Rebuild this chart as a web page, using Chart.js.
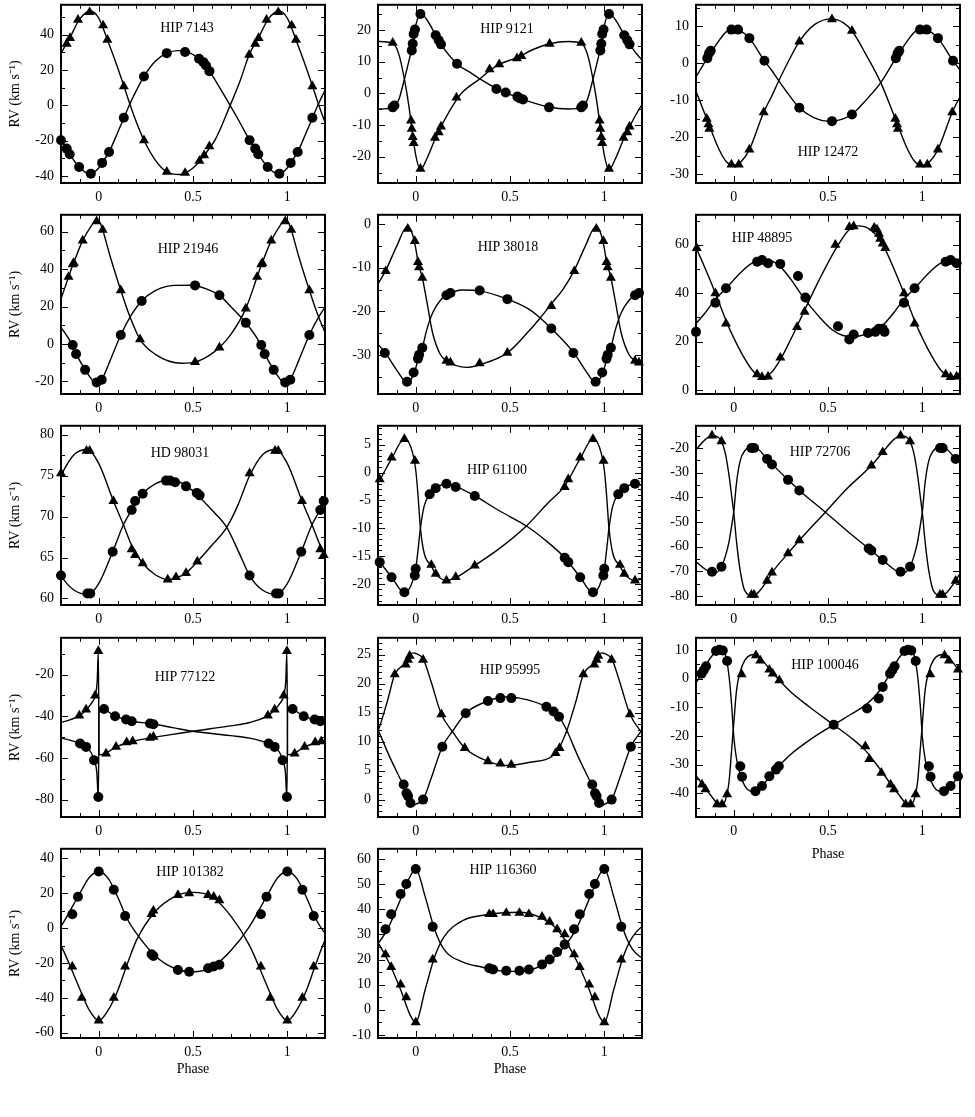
<!DOCTYPE html>
<html><head><meta charset="utf-8">
<script src="https://cdn.jsdelivr.net/npm/chart.js@4/dist/chart.umd.min.js"></script>
<style>
html,body{margin:0;padding:0;background:#fff;}
body{position:relative;width:975px;height:1117px;overflow:hidden;font-family:"Liberation Serif","Times New Roman",serif;}
canvas{position:absolute;}
.name{position:absolute;font:14px "Liberation Serif",serif;color:#000;white-space:nowrap;transform:translate(-50%,-50%);}
</style></head><body>
<script>
// ===== DATA: [phase, RV km/s]; phases in [0,1), repeated over the plotted range -0.2..1.2 =====
const panelNames = ['HIP 7143','HIP 9121','HIP 12472','HIP 21946','HIP 38018','HIP 48895','HD 98031','HIP 61100','HIP 72706','HIP 77122','HIP 95995','HIP 100046','HIP 101382','HIP 116360'];
const phaseTicks = [0, 0.5, 1];
const phaseTickLabels = ['0', '0.5', '1'];
const phaseMinorTicks = [-0.2,-0.1,0.1,0.2,0.3,0.4,0.6,0.7,0.8,0.9,1.1,1.2];

// HIP 7143
const hip7143_circles = [[0.240,16.4],[0.361,29.6],[0.458,30.2],[0.532,26.4],[0.555,24.5],[0.569,22.6],[0.587,19.4],[0.800,-19.8],[0.830,-24.5],[0.846,-27.7],[0.896,-34.9],[0.958,-38.7],[0.018,-32.6],[0.055,-26.4],[0.133,-7.0]];
const hip7143_triangles = [[0.798,28.7],[0.830,34.9],[0.848,38.1],[0.890,48.5],[0.952,52.8],[0.023,45.3],[0.046,37.2],[0.133,10.8],[0.240,-19.8],[0.361,-37.7],[0.458,-38.3],[0.534,-31.5],[0.559,-28.3],[0.587,-23.2]];
const hip7143_fitC = [[0.00,-35.5],[0.018,-32.6],[0.055,-26.4],[0.10,-15.5],[0.134,-7.0],[0.165,0.8],[0.20,8.5],[0.24,16.4],[0.30,25],[0.361,29.6],[0.42,31],[0.47,30.3],[0.532,26.4],[0.587,19.4],[0.65,8.5],[0.697,0],[0.75,-10],[0.80,-19.8],[0.846,-27.7],[0.896,-34.9],[0.955,-39]];
const hip7143_fitT = [[0.00,49.5],[0.046,37.2],[0.10,21.5],[0.134,10.8],[0.165,0.8],[0.20,-9.5],[0.24,-19.8],[0.30,-31],[0.361,-37.7],[0.43,-39.2],[0.50,-35.5],[0.559,-28.3],[0.62,-19],[0.697,0],[0.75,14],[0.798,28.7],[0.848,38.5],[0.90,49],[0.955,53.5]];
const hip7143_yTicks = [-40,-20,0,20,40];

// HIP 9121
const hip9121_circles = [[0.878,-4.4],[0.887,-3.8],[0.979,13.6],[0.984,15.7],[0.989,18.8],[0.996,20.2],[0.025,25.1],[0.106,18.4],[0.122,16.8],[0.134,15.5],[0.219,9.4],[0.428,1.4],[0.477,0.3],[0.539,-1.0],[0.551,-1.5],[0.569,-1.9],[0.707,-4.4]];
const hip9121_triangles = [[0.878,16.0],[0.975,-8.6],[0.979,-11.2],[0.984,-13.8],[0.989,-15.7],[0.025,-23.8],[0.102,-14.0],[0.122,-12.3],[0.134,-10.5],[0.216,-1.3],[0.392,7.6],[0.443,9.2],[0.537,11.1],[0.560,11.8],[0.710,15.7]];
const hip9121_fitC = [[0.0,21.5],[0.028,25.2],[0.06,23.2],[0.106,18.4],[0.134,15.5],[0.219,9.4],[0.30,6.2],[0.34,4.6],[0.428,1.6],[0.55,-1.5],[0.707,-4.3],[0.81,-4.9],[0.878,-4.3],[0.91,-2],[0.94,4.5],[0.965,10.5],[0.98,14.5]];
const hip9121_fitT = [[0.0,-19.5],[0.025,-24.1],[0.06,-20.5],[0.102,-14.5],[0.134,-10.5],[0.20,-3.5],[0.25,0.5],[0.34,4.6],[0.392,7.2],[0.443,9.2],[0.537,11.3],[0.62,13.8],[0.71,15.7],[0.81,16.4],[0.878,15.8],[0.91,12.5],[0.94,4.5],[0.965,-4.5],[0.98,-11.5]];
const hip9121_yTicks = [-20,-10,0,10,20];

// HIP 12472
const hip12472_circles = [[0.988,9.1],[0.023,9.1],[0.083,6.8],[0.163,0.7],[0.348,-12.0],[0.521,-15.6],[0.627,-13.8],[0.860,1.4],[0.869,2.7],[0.878,3.4]];
const hip12472_triangles = [[0.988,-27.3],[0.027,-27.3],[0.083,-23.3],[0.159,-13.2],[0.348,5.9],[0.521,11.9],[0.627,8.8],[0.857,-15.0],[0.866,-16.5],[0.871,-17.7]];
const hip12472_fitC = [[0.0,9.3],[0.05,8.3],[0.083,6.8],[0.163,0.7],[0.20,-1.8],[0.239,-4.7],[0.30,-9],[0.348,-12.0],[0.43,-14.8],[0.51,-15.7],[0.58,-15],[0.627,-13.8],[0.70,-10],[0.78,-5.2],[0.86,1.4],[0.92,6],[0.96,8.5]];
const hip12472_fitT = [[0.0,-27.5],[0.04,-26.5],[0.083,-23.3],[0.159,-13.2],[0.20,-9],[0.239,-4.7],[0.30,1.5],[0.348,5.9],[0.43,10.5],[0.52,12.0],[0.58,11],[0.627,8.8],[0.70,2.5],[0.78,-5.2],[0.857,-15.0],[0.92,-23],[0.96,-26.5]];
const hip12472_yTicks = [-30,-20,-10,0,10];

// HIP 21946
const hip21946_circles = [[0.78,11.3],[0.862,-0.5],[0.880,-5.3],[0.928,-13.8],[0.989,-20.5],[0.016,-19.1],[0.117,4.8],[0.228,23.0],[0.511,31.3],[0.640,26.0]];
const hip21946_triangles = [[0.78,18.9],[0.84,35.8],[0.862,42.5],[0.868,43.2],[0.915,55.2],[0.989,65.5],[0.021,60.9],[0.117,28.7],[0.219,2.5],[0.511,-9.7],[0.640,-1.9]];
const hip21946_fitC = [[0.0,-21],[0.016,-19.1],[0.06,-9],[0.117,4.8],[0.17,15],[0.228,23.0],[0.30,28.5],[0.40,31.3],[0.50,31.4],[0.58,29],[0.640,26.0],[0.71,19],[0.78,11.3],[0.84,3],[0.88,-5.3],[0.928,-13.8],[0.96,-18.5],[0.985,-21.2]];
const hip21946_fitT = [[0.0,65.8],[0.021,60.9],[0.06,47],[0.117,28.7],[0.16,16],[0.219,2.5],[0.30,-5.5],[0.44,-10.3],[0.511,-9.7],[0.58,-6.5],[0.64,-1.9],[0.70,5],[0.78,18.9],[0.84,35.8],[0.865,42.8],[0.915,55.2],[0.96,63],[0.985,66]];
const hip21946_yTicks = [-20,0,20,40,60];

// HIP 38018
const hip38018_circles = [[0.836,-29.5],[0.954,-36.1],[0.989,-34.0],[0.012,-30.8],[0.018,-29.9],[0.035,-28.3],[0.163,-16.3],[0.184,-15.8],[0.339,-15.2],[0.486,-17.2],[0.719,-23.9]];
const hip38018_triangles = [[0.841,-10.8],[0.958,-1.1],[0.995,-3.9],[0.012,-8.7],[0.018,-9.9],[0.035,-12.3],[0.163,-31.3],[0.184,-31.7],[0.339,-31.9],[0.486,-29.5],[0.719,-18.8]];
const hip38018_fitC = [[0.0,-33],[0.012,-31],[0.035,-28.3],[0.06,-24],[0.09,-20.3],[0.13,-17.5],[0.163,-16.3],[0.25,-15.1],[0.339,-15.3],[0.486,-17.2],[0.6,-19.5],[0.66,-21.5],[0.719,-23.9],[0.839,-29.5],[0.90,-33.5],[0.955,-36.3],[0.98,-35.2]];
const hip38018_fitT = [[0.0,-5.5],[0.012,-8.7],[0.035,-12.3],[0.06,-18],[0.09,-25],[0.13,-29.8],[0.163,-31.3],[0.27,-32.8],[0.339,-32.2],[0.486,-29.5],[0.6,-24.5],[0.66,-21.5],[0.719,-18.3],[0.78,-15],[0.839,-10.8],[0.90,-5],[0.955,-0.6],[0.98,-2]];
const hip38018_yTicks = [-30,-20,-10,0];

// HIP 48895
const hip48895_circles = [[0.800,24.0],[0.903,36.0],[0.959,42.0],[0.124,53.0],[0.150,53.7],[0.182,52.4],[0.247,52.1],[0.341,47.1],[0.380,38.2],[0.553,26.3],[0.613,20.8],[0.636,22.9],[0.712,23.5],[0.751,24.0],[0.769,25.3],[0.790,25.3]];
const hip48895_triangles = [[0.903,39.9],[0.959,27.4],[0.124,6.4],[0.150,5.3],[0.182,5.5],[0.247,13.3],[0.336,26.0],[0.376,32.3],[0.539,60.0],[0.613,67.3],[0.636,67.6],[0.745,67.0],[0.760,66.3],[0.770,64.5],[0.777,62.5],[0.790,60.5],[0.804,58.6]];
const hip48895_fitC = [[0.0,45.5],[0.05,49.5],[0.10,52.5],[0.17,53.8],[0.24,51.5],[0.30,46],[0.376,37.5],[0.45,30.5],[0.52,25],[0.58,22.5],[0.64,22],[0.70,23],[0.76,25],[0.80,27.5],[0.85,32],[0.903,37.5],[0.96,42]];
const hip48895_fitT = [[0.0,21.5],[0.05,14],[0.10,8],[0.15,5.2],[0.20,7.2],[0.247,12.5],[0.30,20.5],[0.376,33],[0.45,45],[0.539,58],[0.613,66.3],[0.66,67.8],[0.72,66.5],[0.77,62.5],[0.804,58],[0.85,50],[0.903,40],[0.96,28.5]];
const hip48895_yTicks = [0,20,40,60];

// HD 98031
const hd98031_circles = [[0.80,62.8],[0.94,60.6],[0.955,60.6],[0.074,65.7],[0.175,70.8],[0.193,71.9],[0.233,72.8],[0.357,74.4],[0.378,74.4],[0.405,74.2],[0.463,73.7],[0.52,72.9],[0.535,72.6]];
const hd98031_triangles = [[0.80,75.3],[0.935,78.05],[0.952,78.05],[0.078,71.9],[0.175,66.0],[0.193,65.3],[0.233,64.3],[0.366,62.3],[0.41,62.6],[0.463,63.1],[0.523,64.5]];
const hd98031_fitC = [[0.0,61.8],[0.074,65.7],[0.131,69.0],[0.175,70.8],[0.233,72.8],[0.30,74],[0.38,74.5],[0.463,73.8],[0.52,72.7],[0.60,70.8],[0.679,68.7],[0.75,65.3],[0.80,62.8],[0.87,61],[0.945,60.5]];
const hd98031_fitT = [[0.0,76.5],[0.078,71.9],[0.131,69.0],[0.18,66.2],[0.233,64.3],[0.30,62.9],[0.37,62.3],[0.41,62.5],[0.463,63.1],[0.523,64.5],[0.60,66.5],[0.679,68.7],[0.74,71.5],[0.80,75.0],[0.87,77.6],[0.94,78.2]];
const hd98031_yTicks = [60,65,70,75,80];

// HIP 61100
const hip61100_circles = [[0.790,-15.3],[0.809,-16.1],[0.872,-18.8],[0.940,-21.5],[0.995,-18.5],[0.0,-17.3],[0.074,-3.9],[0.106,-2.8],[0.163,-2.0],[0.212,-2.6],[0.313,-4.2]];
const hip61100_triangles = [[0.790,-2.6],[0.809,-1.2],[0.872,2.7],[0.940,6.0],[0.996,2.1],[0.083,-16.6],[0.106,-18.2],[0.163,-19.4],[0.212,-18.8],[0.313,-16.7]];
const hip61100_fitC = [[0.0,-17.3],[0.012,-14],[0.025,-10],[0.045,-6],[0.074,-3.9],[0.106,-2.8],[0.163,-2.0],[0.212,-2.5],[0.313,-4.2],[0.45,-7],[0.587,-9.6],[0.70,-12.5],[0.79,-15.3],[0.872,-18.8],[0.94,-21.6],[0.975,-20.3]];
const hip61100_fitT = [[0.0,0.5],[0.012,-4],[0.025,-10],[0.045,-14.5],[0.083,-16.8],[0.106,-18.2],[0.163,-19.4],[0.212,-18.9],[0.313,-16.7],[0.45,-13.5],[0.587,-9.6],[0.70,-5.5],[0.79,-2.4],[0.872,2.5],[0.94,6.0],[0.975,4.5]];
const hip61100_yTicks = [-20,-15,-10,-5,0,5];

// HIP 72706
const hip72706_circles = [[0.885,-70.1],[0.935,-68.1],[0.094,-20],[0.108,-20],[0.177,-24.4],[0.203,-26.7],[0.288,-32.9],[0.348,-37.2],[0.716,-60.7],[0.730,-61.5],[0.790,-65.4]];
const hip72706_triangles = [[0.885,-15.0],[0.935,-17.3],[0.094,-79.5],[0.108,-79.5],[0.177,-73.8],[0.203,-70.5],[0.288,-62.7],[0.348,-57.4],[0.730,-27.1],[0.790,-21.7]];
const hip72706_fitC = [[0.0,-46],[0.015,-34],[0.035,-25],[0.06,-21],[0.10,-19.5],[0.13,-20.5],[0.177,-24.4],[0.288,-32.9],[0.348,-37.2],[0.486,-46],[0.60,-53.5],[0.716,-60.7],[0.79,-65.4],[0.885,-70.3],[0.91,-70.3],[0.935,-68.1],[0.955,-64],[0.975,-58],[0.99,-51]];
const hip72706_fitT = [[0.0,-46],[0.015,-58],[0.035,-70],[0.06,-78],[0.10,-79.8],[0.13,-78.5],[0.177,-73.8],[0.203,-70.5],[0.288,-62.7],[0.348,-57.4],[0.486,-46],[0.60,-36.5],[0.73,-27.1],[0.79,-21.7],[0.85,-16.5],[0.885,-15.0],[0.91,-15.3],[0.935,-17.3],[0.955,-22],[0.975,-31],[0.99,-40]];
const hip72706_yTicks = [-80,-70,-60,-50,-40,-30,-20];

// HIP 77122
const hip77122_circles = [[0.901,-53.1],[0.933,-54.7],[0.975,-61.1],[0.998,-78.7],[0.028,-36.5],[0.087,-40],[0.145,-41.6],[0.175,-42.4],[0.272,-43.5],[0.29,-43.8]];
const hip77122_triangles = [[0.897,-39.7],[0.933,-36.8],[0.981,-30.1],[0.998,-8.8],[0.039,-57.9],[0.092,-54.7],[0.148,-52.5],[0.180,-52.0],[0.272,-50.4],[0.29,-49.9]];
const hip77122_fitC = [[0.002,-36],[0.028,-36.5],[0.087,-40],[0.145,-41.6],[0.175,-42.4],[0.272,-43.5],[0.40,-45.6],[0.50,-47.2],[0.60,-48.3],[0.70,-49.3],[0.80,-50.5],[0.901,-53.1],[0.933,-54.8],[0.96,-57.5],[0.975,-61],[0.99,-67],[0.998,-79.5]];
const hip77122_fitT = [[0.002,-58.5],[0.04,-57.5],[0.092,-54.8],[0.148,-52.7],[0.18,-52.0],[0.272,-50.4],[0.40,-48.6],[0.50,-47.2],[0.60,-45.9],[0.70,-44.6],[0.80,-43],[0.897,-39.7],[0.933,-37],[0.96,-34],[0.981,-30.1],[0.992,-23],[0.998,-9]];
const hip77122_yTicks = [-80,-60,-40,-20];

// HIP 95995
const hip95995_circles = [[0.936,2.6],[0.951,1.1],[0.959,0.6],[0.972,-0.6],[0.039,0.0],[0.141,9.1],[0.265,14.9],[0.383,17.0],[0.449,17.5],[0.507,17.5],[0.693,16.0],[0.731,15.2],[0.760,14.3]];
const hip95995_triangles = [[0.889,21.6],[0.947,23.3],[0.959,24.1],[0.968,24.8],[0.039,24.1],[0.136,14.7],[0.260,8.9],[0.383,6.6],[0.449,6.2],[0.507,6.0],[0.742,8.0],[0.763,8.9]];
const hip95995_fitC = [[0.0,-0.8],[0.039,0.0],[0.08,3.5],[0.141,9.1],[0.2,12.0],[0.265,14.9],[0.383,17.0],[0.47,17.7],[0.55,17.5],[0.693,16.0],[0.76,14.3],[0.80,12.0],[0.86,7.5],[0.936,2.3],[0.972,-0.5],[0.99,-1.0]];
const hip95995_fitT = [[0.0,25.2],[0.039,24.3],[0.08,20.5],[0.136,14.7],[0.2,11.5],[0.26,8.9],[0.383,6.6],[0.48,5.9],[0.60,6.4],[0.742,8.0],[0.80,11.8],[0.85,17],[0.889,21.6],[0.947,23.6],[0.968,24.8],[0.985,25.3]];
const hip95995_yTicks = [0,5,10,15,20,25];

// HIP 100046
const hip100046_circles = [[0.829,1.7],[0.841,2.9],[0.853,4.3],[0.906,9.6],[0.924,10.0],[0.942,9.8],[0.965,6.1],[0.035,-30.5],[0.044,-34.2],[0.115,-39.2],[0.150,-37.4],[0.189,-34.0],[0.224,-31.7],[0.239,-30.5],[0.530,-16.1],[0.707,-10.4],[0.769,-6.9],[0.790,-2.9]];
const hip100046_triangles = [[0.832,-36.9],[0.850,-38.6],[0.912,-43.8],[0.938,-43.8],[0.965,-40.3],[0.042,1.5],[0.118,8.1],[0.141,6.3],[0.189,3.1],[0.207,1.7],[0.242,-0.6],[0.698,-23.6],[0.719,-28.0],[0.783,-32.8]];
const hip100046_fitC = [[0.0,-20],[0.015,-28],[0.035,-33.5],[0.06,-37.5],[0.09,-39.3],[0.115,-39.5],[0.15,-37.6],[0.189,-34.2],[0.239,-30.5],[0.30,-26.5],[0.40,-21.5],[0.53,-16.1],[0.62,-12.5],[0.707,-8.8],[0.77,-4.5],[0.83,1.8],[0.88,7.5],[0.93,10.1],[0.955,8.5],[0.975,1],[0.99,-10]];
const hip100046_fitT = [[0.0,-16],[0.015,-4],[0.035,2.5],[0.06,6.5],[0.09,8.2],[0.115,8.4],[0.15,6.6],[0.189,3.4],[0.242,-0.6],[0.30,-4.5],[0.40,-9.8],[0.53,-16.1],[0.62,-20.5],[0.698,-25],[0.77,-31],[0.83,-36.5],[0.88,-40.8],[0.93,-44.2],[0.955,-42.5],[0.975,-36],[0.99,-24]];
const hip100046_yTicks = [-40,-30,-20,-10,0,10];

// HIP 101382
const hip101382_circles = [[0.86,8],[0.89,18],[0.0,32.5],[0.08,22],[0.14,7],[0.28,-15],[0.29,-16],[0.42,-24],[0.48,-25],[0.58,-23],[0.61,-22],[0.64,-21]];
const hip101382_triangles = [[0.86,-22],[0.91,-40],[0.0,-53],[0.08,-40],[0.14,-22],[0.28,8],[0.29,10],[0.42,19],[0.48,20],[0.58,19],[0.61,18],[0.64,16]];
const hip101382_fitC = [[0.0,32.5],[0.05,28.5],[0.10,18],[0.15,5.5],[0.20,-3],[0.30,-16],[0.40,-23],[0.50,-25],[0.60,-22.5],[0.70,-13],[0.80,1],[0.90,20],[0.95,29]];
const hip101382_fitT = [[0.0,-53],[0.05,-47],[0.10,-36],[0.15,-21],[0.20,-7],[0.30,9.5],[0.40,18],[0.50,20.5],[0.60,18],[0.70,7],[0.80,-10],[0.90,-35],[0.95,-47]];
const hip101382_yTicks = [-60,-40,-20,0,20,40];

// HIP 116360
const hip116360_circles = [[0.84,32],[0.87,38],[0.92,46],[0.95,50],[0.0,56],[0.09,33],[0.39,16.5],[0.41,16],[0.48,15.5],[0.55,15.5],[0.60,16],[0.67,18],[0.71,20],[0.75,23],[0.79,26]];
const hip116360_triangles = [[0.84,22],[0.87,17],[0.92,10],[0.95,5],[0.0,-5],[0.09,20],[0.39,38],[0.41,38],[0.48,38.5],[0.55,38.5],[0.60,38],[0.67,37],[0.71,35],[0.75,32],[0.79,30]];
const hip116360_fitC = [[0.0,56],[0.05,45],[0.10,32],[0.15,24],[0.25,19],[0.35,17],[0.45,15.5],[0.55,15.3],[0.65,17],[0.75,22],[0.85,32],[0.92,44],[0.97,53]];
const hip116360_fitT = [[0.0,-5],[0.05,8],[0.10,21],[0.15,29],[0.25,35.5],[0.35,37.5],[0.45,38.5],[0.55,38.8],[0.65,37],[0.75,32],[0.85,20],[0.92,8],[0.97,-2]];
const hip116360_yTicks = [-10,0,10,20,30,40,50,60];

// axis ranges and minor steps (km/s)
const yRanges = [[-44,57],[-28.3,28],[-32.3,15.8],[-26.7,69],[-38.9,2.1],[-1.7,72.4],[59.2,81.1],[-23.8,8.4],[-83.6,-11],[-88.3,-2.4],[-3.0,27.9],[-48.2,14.2],[-63,45.5],[-11.2,64]];
const yMinorSteps = [10,5,5,10,5,10,2.5,1,5,10,1,5,10,5];

// ===== LAYOUT =====
const colLeft = [61, 378, 696];
const rowTop = [4, 214, 425, 637, 848];
const rowH = [179, 180, 180, 180, 190];
const boxW = 264;
const namePos = [[187,28],[507,29],[828,152],[188,249],[508,247],[762,238],[180,453],[497,470],[820,452],[185,677],[510,670],[825,665],[190,872],[503,870]];

const circleSets = [hip7143_circles,hip9121_circles,hip12472_circles,hip21946_circles,hip38018_circles,hip48895_circles,hd98031_circles,hip61100_circles,hip72706_circles,hip77122_circles,hip95995_circles,hip100046_circles,hip101382_circles,hip116360_circles];
const triangleSets = [hip7143_triangles,hip9121_triangles,hip12472_triangles,hip21946_triangles,hip38018_triangles,hip48895_triangles,hd98031_triangles,hip61100_triangles,hip72706_triangles,hip77122_triangles,hip95995_triangles,hip100046_triangles,hip101382_triangles,hip116360_triangles];
const fitCSets = [hip7143_fitC,hip9121_fitC,hip12472_fitC,hip21946_fitC,hip38018_fitC,hip48895_fitC,hd98031_fitC,hip61100_fitC,hip72706_fitC,hip77122_fitC,hip95995_fitC,hip100046_fitC,hip101382_fitC,hip116360_fitC];
const fitTSets = [hip7143_fitT,hip9121_fitT,hip12472_fitT,hip21946_fitT,hip38018_fitT,hip48895_fitT,hd98031_fitT,hip61100_fitT,hip72706_fitT,hip77122_fitT,hip95995_fitT,hip100046_fitT,hip101382_fitT,hip116360_fitT];
const yTickSets = [hip7143_yTicks,hip9121_yTicks,hip12472_yTicks,hip21946_yTicks,hip38018_yTicks,hip48895_yTicks,hd98031_yTicks,hip61100_yTicks,hip72706_yTicks,hip77122_yTicks,hip95995_yTicks,hip100046_yTicks,hip101382_yTicks,hip116360_yTicks];

// repeat phase-folded values over the plotted phase range
function unfold(arr, lo, hi){
  const out=[];
  for(const [p,v] of arr){ for(const k of [-1,0,1]){ const q=p+k; if(q>=lo-1e-9 && q<=hi+1e-9) out.push({x:q,y:v}); } }
  out.sort((a,b)=>a.x-b.x);
  return out;
}

const framePlugin = {
  id:'frameTicks',
  beforeDatasetsDraw(chart, args, o){
    const {ctx, chartArea:a, scales:{x,y}} = chart;
    ctx.save();
    ctx.strokeStyle='#000'; ctx.lineWidth=1;
    ctx.beginPath();
    const vt=(v,len)=>{const px=Math.round(x.getPixelForValue(v))+0.5; ctx.moveTo(px,a.bottom); ctx.lineTo(px,a.bottom-len); ctx.moveTo(px,a.top); ctx.lineTo(px,a.top+len);};
    const ht=(v,len)=>{const py=Math.round(y.getPixelForValue(v))+0.5; ctx.moveTo(a.left,py); ctx.lineTo(a.left+len,py); ctx.moveTo(a.right,py); ctx.lineTo(a.right-len,py);};
    o.xMajor.forEach(v=>vt(v,7)); o.xMinor.forEach(v=>vt(v,4));
    o.yMajor.forEach(v=>ht(v,7)); o.yMinor.forEach(v=>ht(v,4));
    ctx.stroke();
    ctx.lineWidth=2;
    ctx.strokeRect(a.left,a.top,a.right-a.left,a.bottom-a.top);
    ctx.restore();
  }
};

const serif = '"Liberation Serif","Times New Roman",serif';

for(let i=0;i<14;i++){
  const col=i%3, row=Math.floor(i/3);
  const boxH=rowH[row];
  const yW = col===0 ? 61 : 45;
  const hasPhase = (i===11||i===12||i===13);
  const xH = i===11 ? 48 : (hasPhase ? 42 : 26);
  const padT=5, padR=6;
  const cv=document.createElement('canvas');
  const W=yW+boxW+padR, H=padT+boxH+xH;
  cv.width=W; cv.height=H;
  cv.style.left=(colLeft[col]-yW)+'px'; cv.style.top=(rowTop[row]-padT)+'px';
  cv.style.width=W+'px'; cv.style.height=H+'px';
  document.body.appendChild(cv);

  const [ymin,ymax]=yRanges[i];
  const yMajor=yTickSets[i];
  const yMinor=[];
  const st=yMinorSteps[i];
  for(let v=Math.ceil(ymin/st)*st; v<=ymax+1e-9; v+=st){ const r=Math.round(v*100)/100; if(!yMajor.includes(r)) yMinor.push(r); }

  const lineDs=(d)=>({data:unfold(d,-0.45,1.45), showLine:true, pointRadius:0, borderColor:'#000', borderWidth:1.4, cubicInterpolationMode:'monotone', fill:false});
  new Chart(cv,{
    type:'scatter',
    data:{datasets:[
      lineDs(fitCSets[i]), lineDs(fitTSets[i]),
      {data:unfold(circleSets[i],-0.2,1.2), pointStyle:'circle', pointRadius:5, backgroundColor:'#000', borderColor:'#000', borderWidth:0, clip:false},
      {data:unfold(triangleSets[i],-0.2,1.2), pointStyle:'triangle', pointRadius:5.8, backgroundColor:'#000', borderColor:'#000', borderWidth:0, clip:false}
    ]},
    options:{
      responsive:false, animation:false, devicePixelRatio:1,
      layout:{padding:{top:padT,right:padR,left:0,bottom:0}},
      plugins:{legend:{display:false}, tooltip:{enabled:false},
        frameTicks:{xMajor:phaseTicks, xMinor:phaseMinorTicks, yMajor:yMajor, yMinor:yMinor}},
      scales:{
        x:{type:'linear', min:-0.2, max:1.2,
          grid:{display:false, drawTicks:false}, border:{display:false},
          afterBuildTicks:s=>{s.ticks=phaseTicks.map(v=>({value:v}));},
          afterFit:s=>{s.height=xH; s.paddingLeft=0; s.paddingRight=0;},
          ticks:{padding:6, color:'#000', font:{family:serif,size:14}, maxRotation:0, autoSkip:false,
            callback:(v)=>{const k=phaseTicks.indexOf(v); return k>=0?phaseTickLabels[k]:'';}},
          title:{display:hasPhase, text:'Phase', color:'#000', font:{family:serif,size:14}, padding:{top:0,bottom:2}}
        },
        y:{type:'linear', min:ymin, max:ymax,
          grid:{display:false, drawTicks:false}, border:{display:false},
          afterBuildTicks:s=>{s.ticks=yMajor.map(v=>({value:v}));},
          afterFit:s=>{s.width=yW; s.paddingTop=0; s.paddingBottom=0;},
          ticks:{padding:7, color:'#000', font:{family:serif,size:14}, autoSkip:false},
          title:{display:col===0, text:'RV (km s\u207B\u00B9)', color:'#000', font:{family:serif,size:14}, padding:{top:7,bottom:0}}
        }
      }
    },
    plugins:[framePlugin]
  });

  const nm=document.createElement('div');
  nm.className='name'; nm.textContent=panelNames[i];
  nm.style.left=namePos[i][0]+'px'; nm.style.top=namePos[i][1]+'px';
  document.body.appendChild(nm);
}
</script>
</body></html>
